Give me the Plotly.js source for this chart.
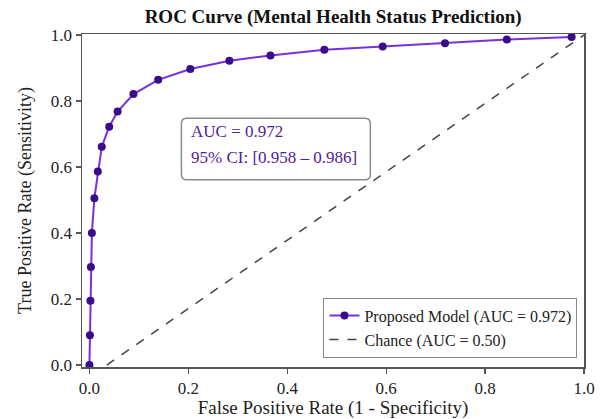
<!DOCTYPE html>
<html>
<head>
<meta charset="utf-8">
<script src="https://cdn.plot.ly/plotly-3.0.1.min.js"></script>
<style>html,body{margin:0;padding:0;background:#fff;}#chart{width:609px;height:419px;}</style>
</head>
<body>
<div id="chart"></div>
<script>
// ROC curve points
const fpr = [0.0, 0.001, 0.002, 0.003, 0.005, 0.010, 0.017, 0.025, 0.040, 0.057, 0.089, 0.139, 0.204, 0.283, 0.366, 0.475, 0.593, 0.719, 0.844, 0.975];
const tpr = [0.0, 0.09, 0.195, 0.297, 0.40, 0.505, 0.586, 0.661, 0.722, 0.768, 0.821, 0.864, 0.897, 0.922, 0.938, 0.955, 0.965, 0.975, 0.986, 0.994];
// Chance line as drawn
const chanceX = [0.035, 1.0];
const chanceY = [0.0, 1.0];

const modelName = 'Proposed Model (AUC = 0.972)';
const chanceName = 'Chance (AUC = 0.50)';
const xTicks = [0.0, 0.2, 0.4, 0.6, 0.8, 1.0];
const yTicks = [0.0, 0.2, 0.4, 0.6, 0.8, 1.0];
const tickText = ['0.0', '0.2', '0.4', '0.6', '0.8', '1.0'];
const aucLine = 'AUC = 0.972';
const ciLine = '95% CI: [0.958 – 0.986]';

const serif = '"Liberation Serif", "Times New Roman", serif';

const traces = [
  {
    x: fpr, y: tpr, type: 'scatter', mode: 'lines+markers', name: modelName,
    line: {color: '#7a30d8', width: 2},
    marker: {color: '#3a0c8c', size: 8}
  },
  {
    x: chanceX, y: chanceY, type: 'scatter', mode: 'lines', name: chanceName,
    line: {color: '#444444', width: 1.5, dash: 'dash'}
  }
];

const axisCommon = {
  showgrid: false, zeroline: false, showline: true, mirror: true,
  linecolor: '#555555', linewidth: 1.5,
  ticks: 'outside', ticklen: 5, tickcolor: '#555555', tickwidth: 1.2,
  tickfont: {family: serif, size: 17, color: '#222'}
};

// box corners (annotation frame)
const bx0 = 0.186, bx1 = 0.568, by0 = 0.561, by1 = 0.748, rx = 0.011, ry = 0.016;
const boxPath = `M ${bx0+rx} ${by0} L ${bx1-rx} ${by0} Q ${bx1} ${by0} ${bx1} ${by0+ry} L ${bx1} ${by1-ry} Q ${bx1} ${by1} ${bx1-rx} ${by1} L ${bx0+rx} ${by1} Q ${bx0} ${by1} ${bx0} ${by1-ry} L ${bx0} ${by0+ry} Q ${bx0} ${by0} ${bx0+rx} ${by0} Z`;

const layout = {
  width: 609, height: 419,
  margin: {l: 82, r: 25, t: 34, b: 52},
  paper_bgcolor: '#ffffff', plot_bgcolor: '#ffffff',
  title: {text: '<b>ROC Curve (Mental Health Status Prediction)</b>', x: 0.547, xanchor: 'center', y: 0.962, yanchor: 'middle',
          font: {family: serif, size: 19, color: '#111'}},
  xaxis: Object.assign({}, axisCommon, {
    range: [-0.015, 1.0], tickvals: xTicks, ticktext: tickText,
    title: {text: 'False Positive Rate (1 - Specificity)', font: {family: serif, size: 19, color: '#222'}, standoff: 0}
  }),
  yaxis: Object.assign({}, axisCommon, {
    range: [-0.006, 1.003], tickvals: yTicks, ticktext: tickText,
    title: {text: 'True Positive Rate (Sensitivity)', font: {family: serif, size: 18, color: '#222'}, standoff: 14}
  }),
  legend: {
    x: 0.987, y: 0.028, xanchor: 'right', yanchor: 'bottom',
    bgcolor: '#ffffff', bordercolor: '#888888', borderwidth: 1,
    font: {family: serif, size: 16, color: '#222'}
  },
  showlegend: true,
  shapes: [{
    type: 'path', xref: 'x', yref: 'y', path: boxPath,
    line: {color: '#8a8a8a', width: 1.5}, fillcolor: '#ffffff', layer: 'above'
  }],
  annotations: [
    {x: 0.202, y: 0.709, xref: 'x', yref: 'y', xanchor: 'left', yanchor: 'middle', showarrow: false,
     text: aucLine, font: {family: serif, size: 17, color: '#4f2396'}},
    {x: 0.202, y: 0.630, xref: 'x', yref: 'y', xanchor: 'left', yanchor: 'middle', showarrow: false,
     text: ciLine, font: {family: serif, size: 17, color: '#4f2396'}}
  ]
};

Plotly.newPlot('chart', traces, layout, {displayModeBar: false, staticPlot: true});
</script>
</body>
</html>
